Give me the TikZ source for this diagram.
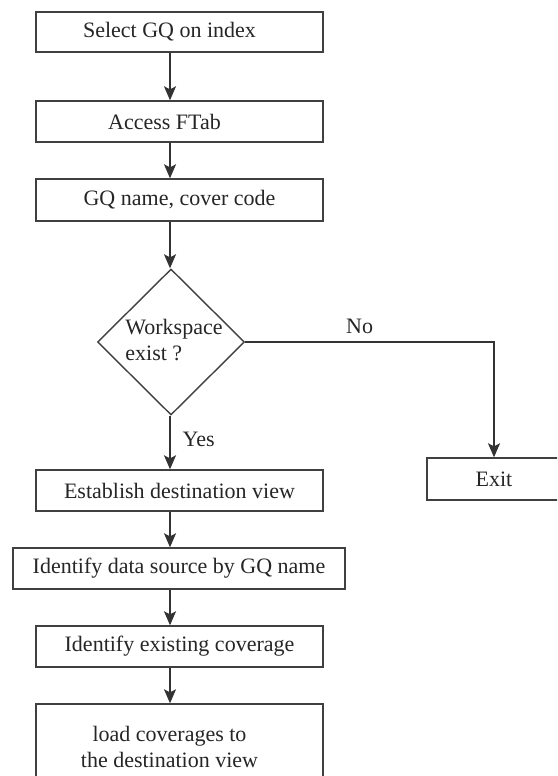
\documentclass[tikz,border=0pt]{standalone}
\usepackage{fontspec}
\setmainfont{Liberation Serif}
\usetikzlibrary{shapes.geometric,arrows.meta,calc}
\begin{document}
\begin{tikzpicture}[x=1pt,y=-1pt,
  every node/.style={font=\fontsize{22}{26}\selectfont, text=black!85},
  box/.style={draw=black!75, line width=1.4pt, rectangle, minimum height=41pt, inner sep=0pt, align=center},
  dec/.style={draw=black!75, line width=1.4pt, diamond, minimum width=147pt, minimum height=146pt, inner sep=0pt},
  arr/.style={draw=black!80, line width=1.4pt, -{Stealth[length=14pt,width=12pt,inset=3pt]}},
  lbl/.style={inner sep=0pt}]
\clip (0,0) rectangle (557,776);
\fill[white] (0,0) rectangle (557,776);
\coordinate (ax) at (170,0);
\node[box, minimum width=287pt, minimum height=40pt] (b1) at (179.5,32) {Select GQ on index\hspace*{20pt}};
\node[box, minimum width=287pt] (b2) at (179.5,121.5) {Access FTab\hspace*{30pt}};
\node[box, minimum width=287pt, minimum height=42pt] (b3) at (179.5,200) {GQ name, cover code};
\node[dec] (d) at (171,342) {};
\node[lbl, align=left] (dt) at (174,340) {Workspace\\exist ?};
\node[box, minimum width=287pt] (b4) at (179.5,490.5) {Establish destination view};
\node[box, minimum width=332pt] (b5) at (179,568.5) {Identify data source by GQ name};
\node[box, minimum width=287pt] (b6) at (179.5,646.5) {Identify existing coverage};
\node[box, minimum width=287pt, minimum height=86pt] (b7) at (179.5,747) {load coverages to\hspace*{20pt}\\the destination view\hspace*{20pt}};
\node[box, minimum width=134pt, minimum height=42pt] (ex) at (494,479) {Exit};
\draw[arr] (b1.south -| ax) -- (b2.north -| ax);
\draw[arr] (b2.south -| ax) -- (b3.north -| ax);
\draw[arr] (b3.south -| ax) -- (d.north -| ax);
\draw[arr] (d.south -| ax) -- (b4.north -| ax) node[lbl, pos=0.45, right=12pt] {Yes};
\draw[arr] (d.east) -| (ex.north) node[lbl, pos=0.23, above=8pt] {No};
\draw[arr] (b4.south -| ax) -- (b5.north -| ax);
\draw[arr] (b5.south -| ax) -- (b6.north -| ax);
\draw[arr] (b6.south -| ax) -- (b7.north -| ax);
\end{tikzpicture}
\end{document}
